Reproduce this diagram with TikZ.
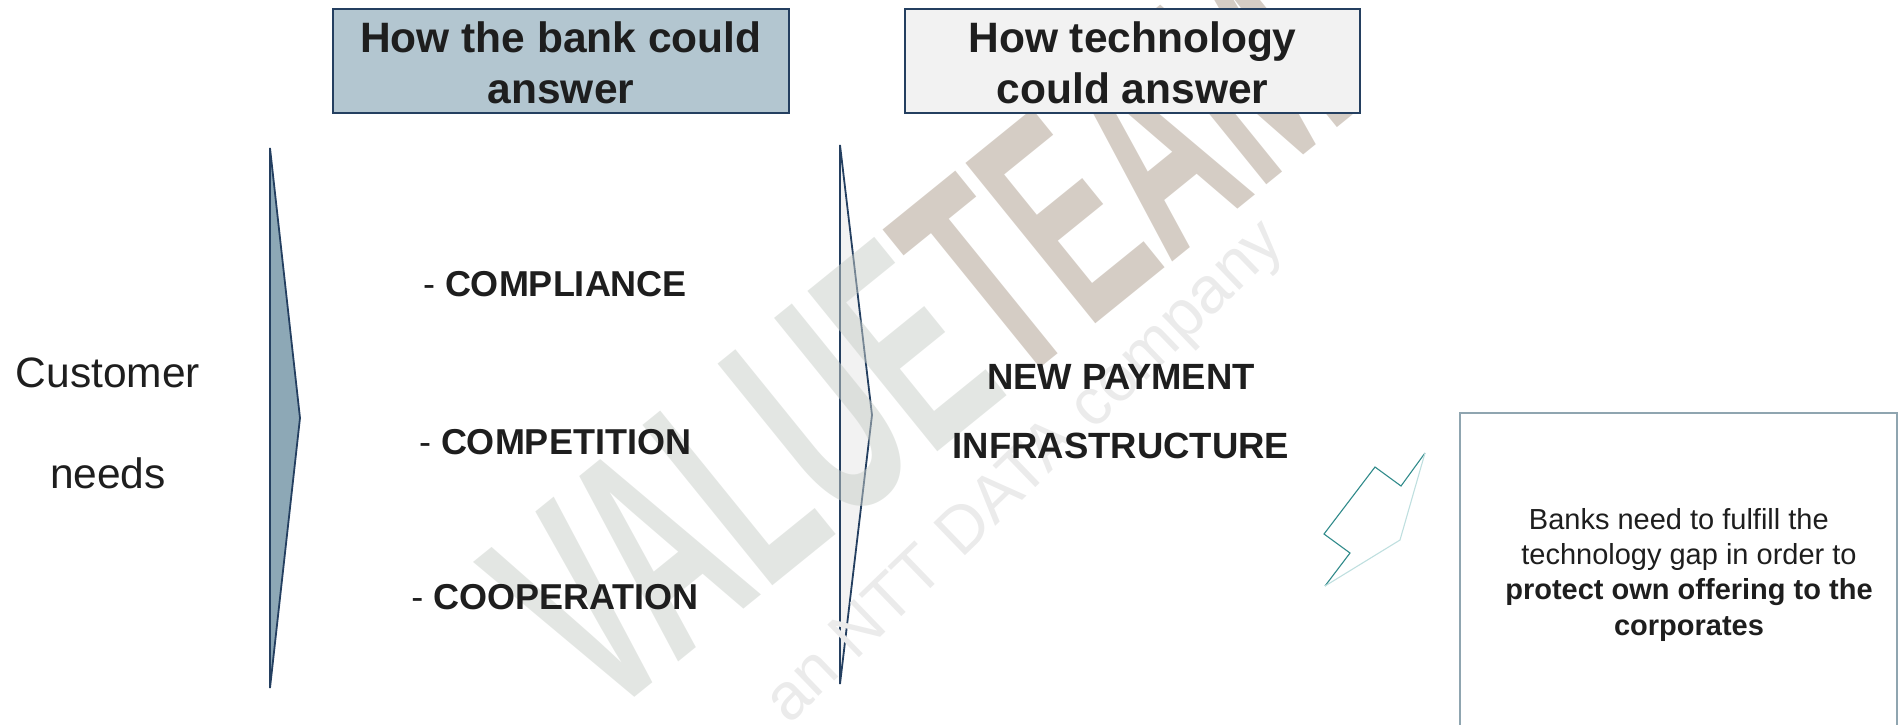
\documentclass[tikz,border=0pt]{standalone}
\usepackage{fontspec}
\setmainfont{Liberation Sans}
\usepackage{graphicx}
\definecolor{navy}{HTML}{243F60}
\definecolor{hdrA}{HTML}{B3C6D0}
\definecolor{hdrB}{HTML}{F2F2F2}
\definecolor{chevA}{HTML}{8DA8B6}
\definecolor{chevB}{HTML}{F2F2F2}
\definecolor{boxline}{HTML}{8FA5B0}
\definecolor{teal1}{HTML}{2F8A8A}
\definecolor{teal2}{HTML}{BFDFDF}
\definecolor{wmgray}{HTML}{C8CEC8}
\definecolor{wmtan}{HTML}{AC9C8C}
\definecolor{wmlight}{HTML}{EBEBEB}
\definecolor{txt}{HTML}{1E1E1E}
\tikzset{
  hdr/.style={draw=navy, line width=2pt, inner sep=0pt},
  hdrtext/.style={align=center, inner sep=0pt,
    text=txt, font=\fontsize{42.5}{50.5}\selectfont\bfseries},
  chev/.style={draw=navy, line width=1.8pt, line join=miter},
  bigtxt/.style={anchor=base, inner sep=0pt, text=txt, font=\fontsize{42.5}{47}\selectfont},
  item/.style={anchor=base, inner sep=0pt, text=txt, font=\fontsize{36}{40}\selectfont},
  tech/.style={anchor=base, inner sep=0pt, text=txt, font=\fontsize{36.5}{40}\selectfont\bfseries},
  notebox/.style={draw=boxline, line width=1.5pt},
  notetxt/.style={align=center, inner sep=0pt, text=txt, font=\fontsize{29}{35.3}\selectfont},
  wm/.style={inner sep=0pt, text opacity=0.5, font=\fontsize{300}{300}\selectfont\bfseries},
}
\begin{document}
\begin{tikzpicture}[x=1pt,y=-1pt]
\useasboundingbox (0,0) rectangle (1899,724);
\clip (0,0) rectangle (1899,724);

% chevrons
\draw[chev, fill=chevA] (270,148) -- (300,418) -- (270,688) -- cycle;
\draw[chev, fill=chevB] (840,145) -- (872,415) -- (840,684) -- cycle;

% watermark
\node[wm, rotate=39] (wm) at (918,337)
  {\scalebox{0.53}[1]{\textcolor{wmgray}{VALUE}\textcolor{wmtan}{TEAM}}};
\node[inner sep=0pt, rotate=44, text=wmlight, font=\fontsize{66}{66}\selectfont] (wm2) at (1027,474) {an NTT DATA company};

% header boxes
\node[hdr, fill=hdrA, minimum width=456, minimum height=104] (h1) at (561,60.5) {};
\node[hdrtext] (h1t) at (561,63) {How the bank could\\answer};
\node[hdr, fill=hdrB, minimum width=455, minimum height=104] (h2) at (1132.5,60.5) {};
\node[hdrtext] (h2t) at (1132.5,63) {How technology\\could answer};

% left label
\node[bigtxt] (cust) at (108,387) {Customer};
\node[bigtxt] (needs) at (108,488.5) {needs};

% bank answers
\node[item] (i1) at (555,296) {- \textbf{COMPLIANCE}};
\node[item] (i2) at (555,454) {- \textbf{COMPETITION}};
\node[item] (i3) at (555,609) {- \textbf{COOPERATION}};

% technology answer
\node[tech] (t1) at (1121,389) {NEW PAYMENT};
\node[tech] (t2) at (1121,458) {INFRASTRUCTURE};

% lightning
\draw[teal1, line width=1.1pt, line join=miter]
  (1325,586) -- (1350,553) -- (1324,534) -- (1375,467) -- (1401,486) -- (1425,453);
\draw[teal2, line width=1.1pt] (1425,453) -- (1400,540) -- (1325,586);

% note box
\draw[notebox] (1460,413) rectangle (1897,760);
\node[notetxt] (note) at (1689,574.6) {Banks need to fulfill the\hspace*{0.7em}\\technology gap in order to\\\textbf{protect own offering to the}\\\textbf{corporates}};
\end{tikzpicture}
\end{document}
